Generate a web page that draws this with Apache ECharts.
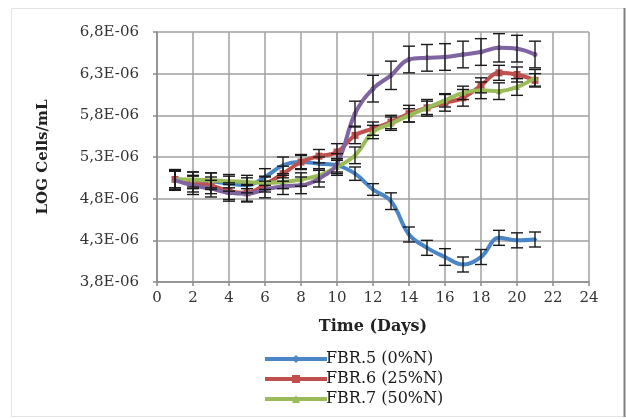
<!DOCTYPE html>
<html>
<head>
<meta charset="utf-8">
<script src="https://cdn.jsdelivr.net/npm/echarts@6/dist/echarts.min.js"></script>
<style>html,body{margin:0;padding:0;background:#fff}#c{width:626px;height:419px}</style>
</head>
<body>
<div id="c"></div>
<script>
// values in units of 1E-06
const days = [1,2,3,4,5,6,7,8,9,10,11,12,13,14,15,16,17,18,19,20,21];
const fbr5 = [5.03,5.02,5.01,4.98,4.96,5.06,5.20,5.24,5.22,5.20,5.10,4.91,4.77,4.37,4.21,4.10,4.01,4.10,4.33,4.30,4.31];
const fbr6 = [5.03,4.98,4.96,4.89,4.87,4.97,5.10,5.24,5.31,5.36,5.56,5.64,5.72,5.82,5.89,5.95,6.01,6.16,6.31,6.29,6.22];
const fbr7 = [5.03,5.03,5.02,5.01,5.00,4.99,5.00,5.03,5.08,5.18,5.32,5.60,5.70,5.80,5.89,5.98,6.07,6.10,6.09,6.14,6.25];
const fbr8 = [5.02,4.96,4.92,4.87,4.86,4.91,4.95,4.96,5.04,5.22,5.82,6.12,6.28,6.47,6.49,6.50,6.53,6.56,6.61,6.60,6.53];
const err5 = [0.12,0.1,0.1,0.09,0.09,0.1,0.1,0.09,0.08,0.08,0.08,0.07,0.1,0.09,0.09,0.1,0.09,0.09,0.09,0.09,0.09];
const err6 = [0.1,0.1,0.1,0.1,0.1,0.09,0.09,0.08,0.08,0.1,0.1,0.08,0.08,0.1,0.1,0.1,0.1,0.09,0.09,0.09,0.08];
const err7 = [0.1,0.09,0.09,0.08,0.08,0.08,0.08,0.08,0.08,0.1,0.1,0.08,0.08,0.08,0.08,0.08,0.08,0.1,0.1,0.1,0.1];
const err8 = [0.12,0.11,0.1,0.1,0.1,0.1,0.1,0.1,0.1,0.12,0.15,0.16,0.17,0.16,0.16,0.16,0.16,0.16,0.17,0.16,0.16];
const names = ['FBR.5 (0%N)','FBR.6 (25%N)','FBR.7 (50%N)','Series 4'];
const colors = ['#4A86C6','#C0504D','#9BBB59','#8064A2'];
const yMin = 3.8, yMax = 6.8, yStep = 0.5;
const xMin = 0, xMax = 24, xStep = 2;

const chart = echarts.init(document.getElementById('c'), null, {renderer:'canvas'});
const serif = 'DejaVu Serif';
const lineSeries = [fbr5, fbr6, fbr7, fbr8].map((vals, k) => ({
  name: names[k],
  type: 'line',
  smooth: 0.4,
  data: days.map((d, i) => [d, vals[i]]),
  symbol: ['diamond','rect','triangle','emptyCircle'][k],
  symbolSize: [5,7,6,3][k],
  lineStyle: {width: 4, color: colors[k]},
  itemStyle: {color: colors[k]},
  z: 2 + k,
  animation: false
}));
const errSeries = [[fbr5,err5],[fbr6,err6],[fbr7,err7],[fbr8,err8]].map(([vals, errs], k) => ({
  name: 'err' + k,
  type: 'custom',
  data: days.map((d, i) => [d, vals[i], errs[i]]),
  encode: {x: 0, y: 1},
  z: 10,
  silent: true,
  animation: false,
  renderItem: (params, api) => {
    const x = api.value(0), y = api.value(1), e = api.value(2);
    const t = api.coord([x, y + e]);
    const b = api.coord([x, y - e]);
    const hw = 6;
    const st = {stroke: '#1a1a1a', lineWidth: 1.4};
    return {type: 'group', children: [
      {type: 'line', shape: {x1: t[0], y1: t[1], x2: b[0], y2: b[1]}, style: st},
      {type: 'line', shape: {x1: t[0]-hw, y1: t[1], x2: t[0]+hw, y2: t[1]}, style: st},
      {type: 'line', shape: {x1: b[0]-hw, y1: b[1], x2: b[0]+hw, y2: b[1]}, style: st}
    ]};
  }
}));

chart.setOption({
  animation: false,
  backgroundColor: '#fff',
  grid: {left: 157, right: 37, top: 32, bottom: 137},
  graphic: [
    {type: 'rect', shape: {x: 11.5, y: 8.5, width: 613, height: 408}, style: {fill: 'none', stroke: '#e4e4e4', lineWidth: 1}, z: -1},
    {type: 'line', shape: {x1: 624.5, y1: 8, x2: 624.5, y2: 417}, style: {stroke: '#808080', lineWidth: 2}, z: -1}
  ],
  legend: {
    data: names.slice(0, 3),
    orient: 'vertical',
    left: 258,
    top: 346,
    itemWidth: 62,
    itemHeight: 10,
    itemGap: 4,
    lineStyle: {width: 4},
    textStyle: {fontFamily: serif, fontSize: 16, color: '#1a1a1a', padding: [0,0,0,-6]}
  },
  xAxis: {
    type: 'value', min: xMin, max: xMax, interval: xStep,
    name: 'Time (Days)', nameLocation: 'middle', nameGap: 37,
    nameTextStyle: {fontFamily: serif, fontWeight: 'bold', fontSize: 16, color: '#222'},
    axisLine: {show: true, lineStyle: {color: '#8a8a8a', width: 1.5}},
    axisTick: {show: true, length: 4, lineStyle: {color: '#8a8a8a', width: 1.5}},
    axisLabel: {fontFamily: serif, fontSize: 15, color: '#333', margin: 9},
    splitLine: {show: true, lineStyle: {color: '#a0a0a0', width: 1.5}}
  },
  yAxis: {
    type: 'value', min: yMin, max: yMax, interval: yStep,
    name: 'LOG Cells/mL', nameLocation: 'middle', nameGap: 106,
    nameTextStyle: {fontFamily: serif, fontWeight: 'bold', fontSize: 15, color: '#222'},
    axisLine: {show: true, lineStyle: {color: '#8a8a8a', width: 1.5}},
    axisTick: {show: true, length: 4, lineStyle: {color: '#8a8a8a', width: 1.5}},
    axisLabel: {fontFamily: serif, fontSize: 15, color: '#333', margin: 18,
      formatter: v => v.toFixed(1).replace('.', ',') + 'E-06'},
    splitLine: {show: true, lineStyle: {color: '#a0a0a0', width: 1.5}}
  },
  series: lineSeries.concat(errSeries)
});
</script>
</body>
</html>
